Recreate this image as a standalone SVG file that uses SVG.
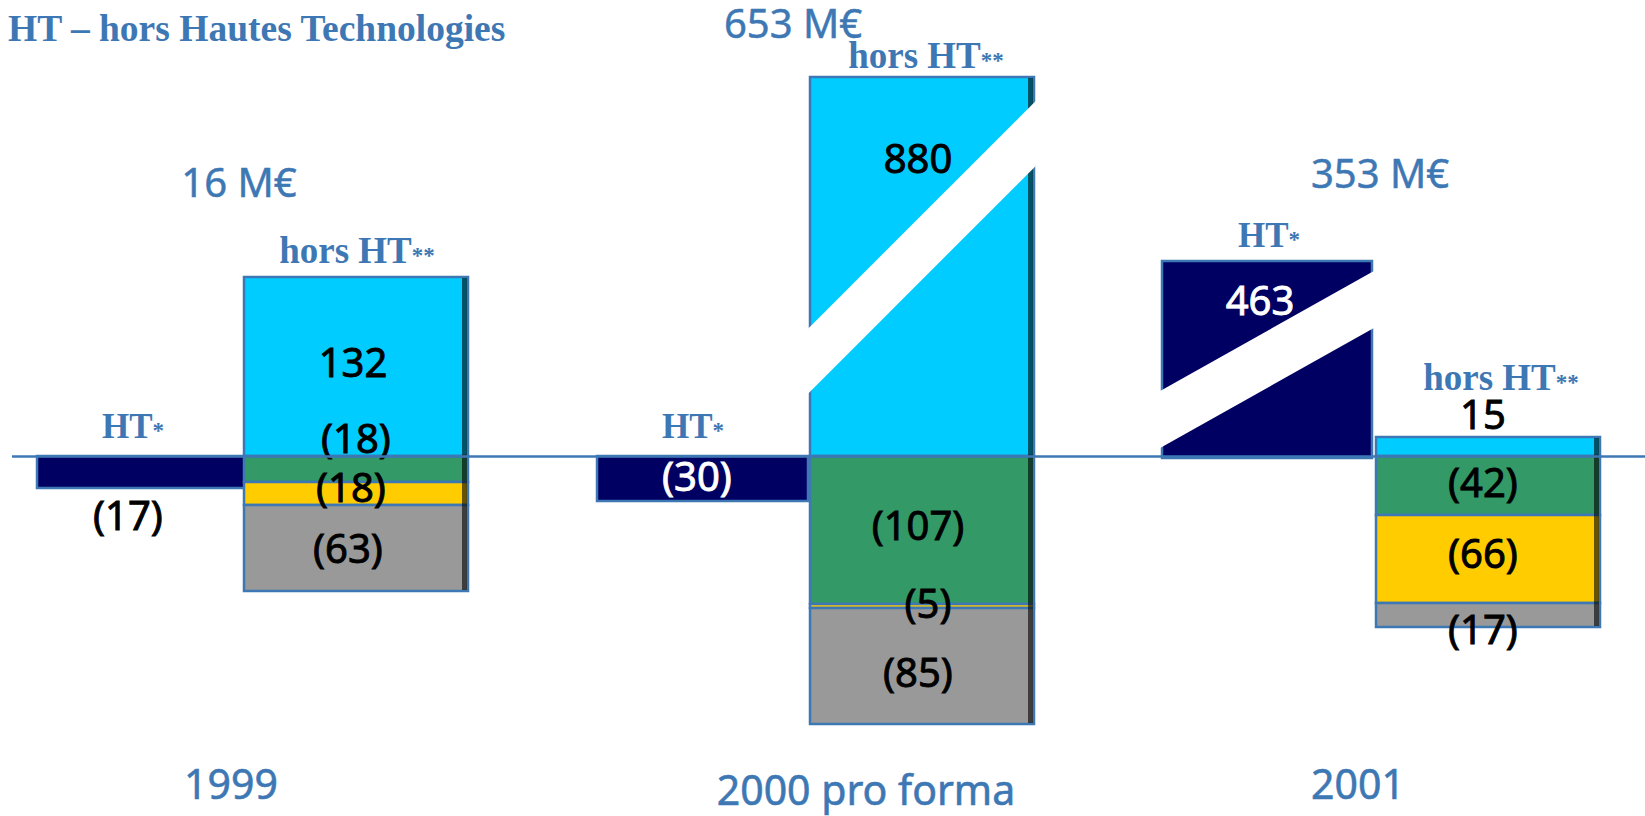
<svg xmlns="http://www.w3.org/2000/svg" width="1645" height="816" viewBox="0 0 1645 816">
<style>
.bar{stroke:#3E78B4;stroke-width:2.5}
.navy{fill:#000062}
.cyan{fill:#00CCFF}
.green{fill:#339966}
.yellow{fill:#FFCC00}
.gray{fill:#999999}
.shade{fill:#000;opacity:0.6}
.band{fill:#fff}
.lbl{font-family:"Liberation Serif",serif;font-weight:bold;font-size:35px;fill:#3E78B4;text-anchor:middle}
.hlbl{font-size:37px}
.ast{font-size:23px}
.num{font-family:"Noto Sans","Open Sans",sans-serif;font-size:40px;fill:#000;stroke:#000;stroke-width:0.9;text-anchor:middle}
.wnum{fill:#fff;stroke:#fff}
.tot{font-family:"Noto Sans","Open Sans",sans-serif;font-size:40px;fill:#3E78B4;stroke:#3E78B4;stroke-width:0.5;text-anchor:middle}
.year{font-family:"Noto Sans","Open Sans",sans-serif;font-size:41px;fill:#3E78B4;stroke:#3E78B4;stroke-width:0.6;text-anchor:middle}
.axis{stroke:#3E78B4;stroke-width:2.5;fill:none}
</style>
<rect width="1645" height="816" fill="#fff"/>
<text x="8" y="41" font-family="'Liberation Serif',serif" font-weight="bold" font-size="37.5" fill="#3E78B4">HT – hors Hautes Technologies</text>

<g id="ht-1999">
<rect class="bar navy" x="37" y="456" width="210" height="32"/>
<text class="lbl" x="133" y="438">HT<tspan class="ast">*</tspan></text>
<text class="num" x="128" y="530">(17)</text>
</g>

<g id="horsht-1999">
<rect class="bar cyan" x="244" y="277" width="224" height="179"/>
<rect class="bar green" x="244" y="456" width="224" height="26"/>
<rect class="bar yellow" x="244" y="482" width="224" height="23"/>
<rect class="bar gray" x="244" y="505" width="224" height="86"/>
<rect class="shade" x="462" y="278" width="5" height="312"/>
<text class="lbl hlbl" x="357" y="263">hors HT<tspan class="ast">**</tspan></text>
<text class="tot" x="239" y="197">16 M€</text>
<text class="num" x="353" y="377">132</text>
<text class="num" x="356" y="453">(18)</text>
<text class="num" x="351" y="502">(18)</text>
<text class="num" x="348" y="563">(63)</text>
</g>

<g id="ht-2000">
<rect class="bar navy" x="597" y="456" width="211" height="45"/>
<text class="lbl" x="693" y="438">HT<tspan class="ast">*</tspan></text>
<text class="num wnum" x="697" y="491">(30)</text>
</g>

<g id="horsht-2000">
<rect class="bar cyan" x="810" y="77" width="224" height="379"/>
<rect class="bar green" x="810" y="456" width="224" height="148"/>
<rect class="bar yellow" x="810" y="604" width="224" height="4"/>
<rect class="bar gray" x="810" y="608" width="224" height="116"/>
<rect class="shade" x="1028" y="78" width="5" height="645"/>
<polygon class="band" points="805,331.7 1040,96.7 1040,161.7 805,396.7"/>
<text class="lbl hlbl" x="926" y="68">hors HT<tspan class="ast">**</tspan></text>
<text class="tot" x="793" y="38">653 M€</text>
<text class="num" x="918" y="173">880</text>
<text class="num" x="918" y="540">(107)</text>
<text class="num" x="928" y="618">(5)</text>
<text class="num" x="918" y="687">(85)</text>
</g>

<g id="ht-2001">
<rect class="bar navy" x="1162" y="261" width="210" height="197"/>
<polygon class="band" points="1157,392.8 1377,269.2 1377,326.2 1157,449.8"/>
<text class="lbl" x="1269" y="247">HT<tspan class="ast">*</tspan></text>
<text class="tot" x="1380" y="188">353 M€</text>
<text class="num wnum" x="1260" y="315">463</text>
</g>

<g id="horsht-2001">
<rect class="bar cyan" x="1376" y="437" width="224" height="19"/>
<rect class="bar green" x="1376" y="456" width="224" height="59"/>
<rect class="bar yellow" x="1376" y="515" width="224" height="88"/>
<rect class="bar gray" x="1376" y="603" width="224" height="24"/>
<rect class="shade" x="1594" y="438" width="5" height="188"/>
<text class="lbl hlbl" x="1501" y="390">hors HT<tspan class="ast">**</tspan></text>
<text class="num" x="1483" y="429">15</text>
<text class="num" x="1483" y="497">(42)</text>
<text class="num" x="1483" y="568">(66)</text>
<text class="num" x="1483" y="644">(17)</text>
</g>

<g id="connectors">
<line class="axis" x1="12" y1="456.5" x2="1645" y2="456.5"/>
</g>

<g id="years">
<text class="year" x="231" y="799">1999</text>
<text class="year" x="866" y="805">2000 pro forma</text>
<text class="year" x="1358" y="799">2001</text>
</g>
</svg>
